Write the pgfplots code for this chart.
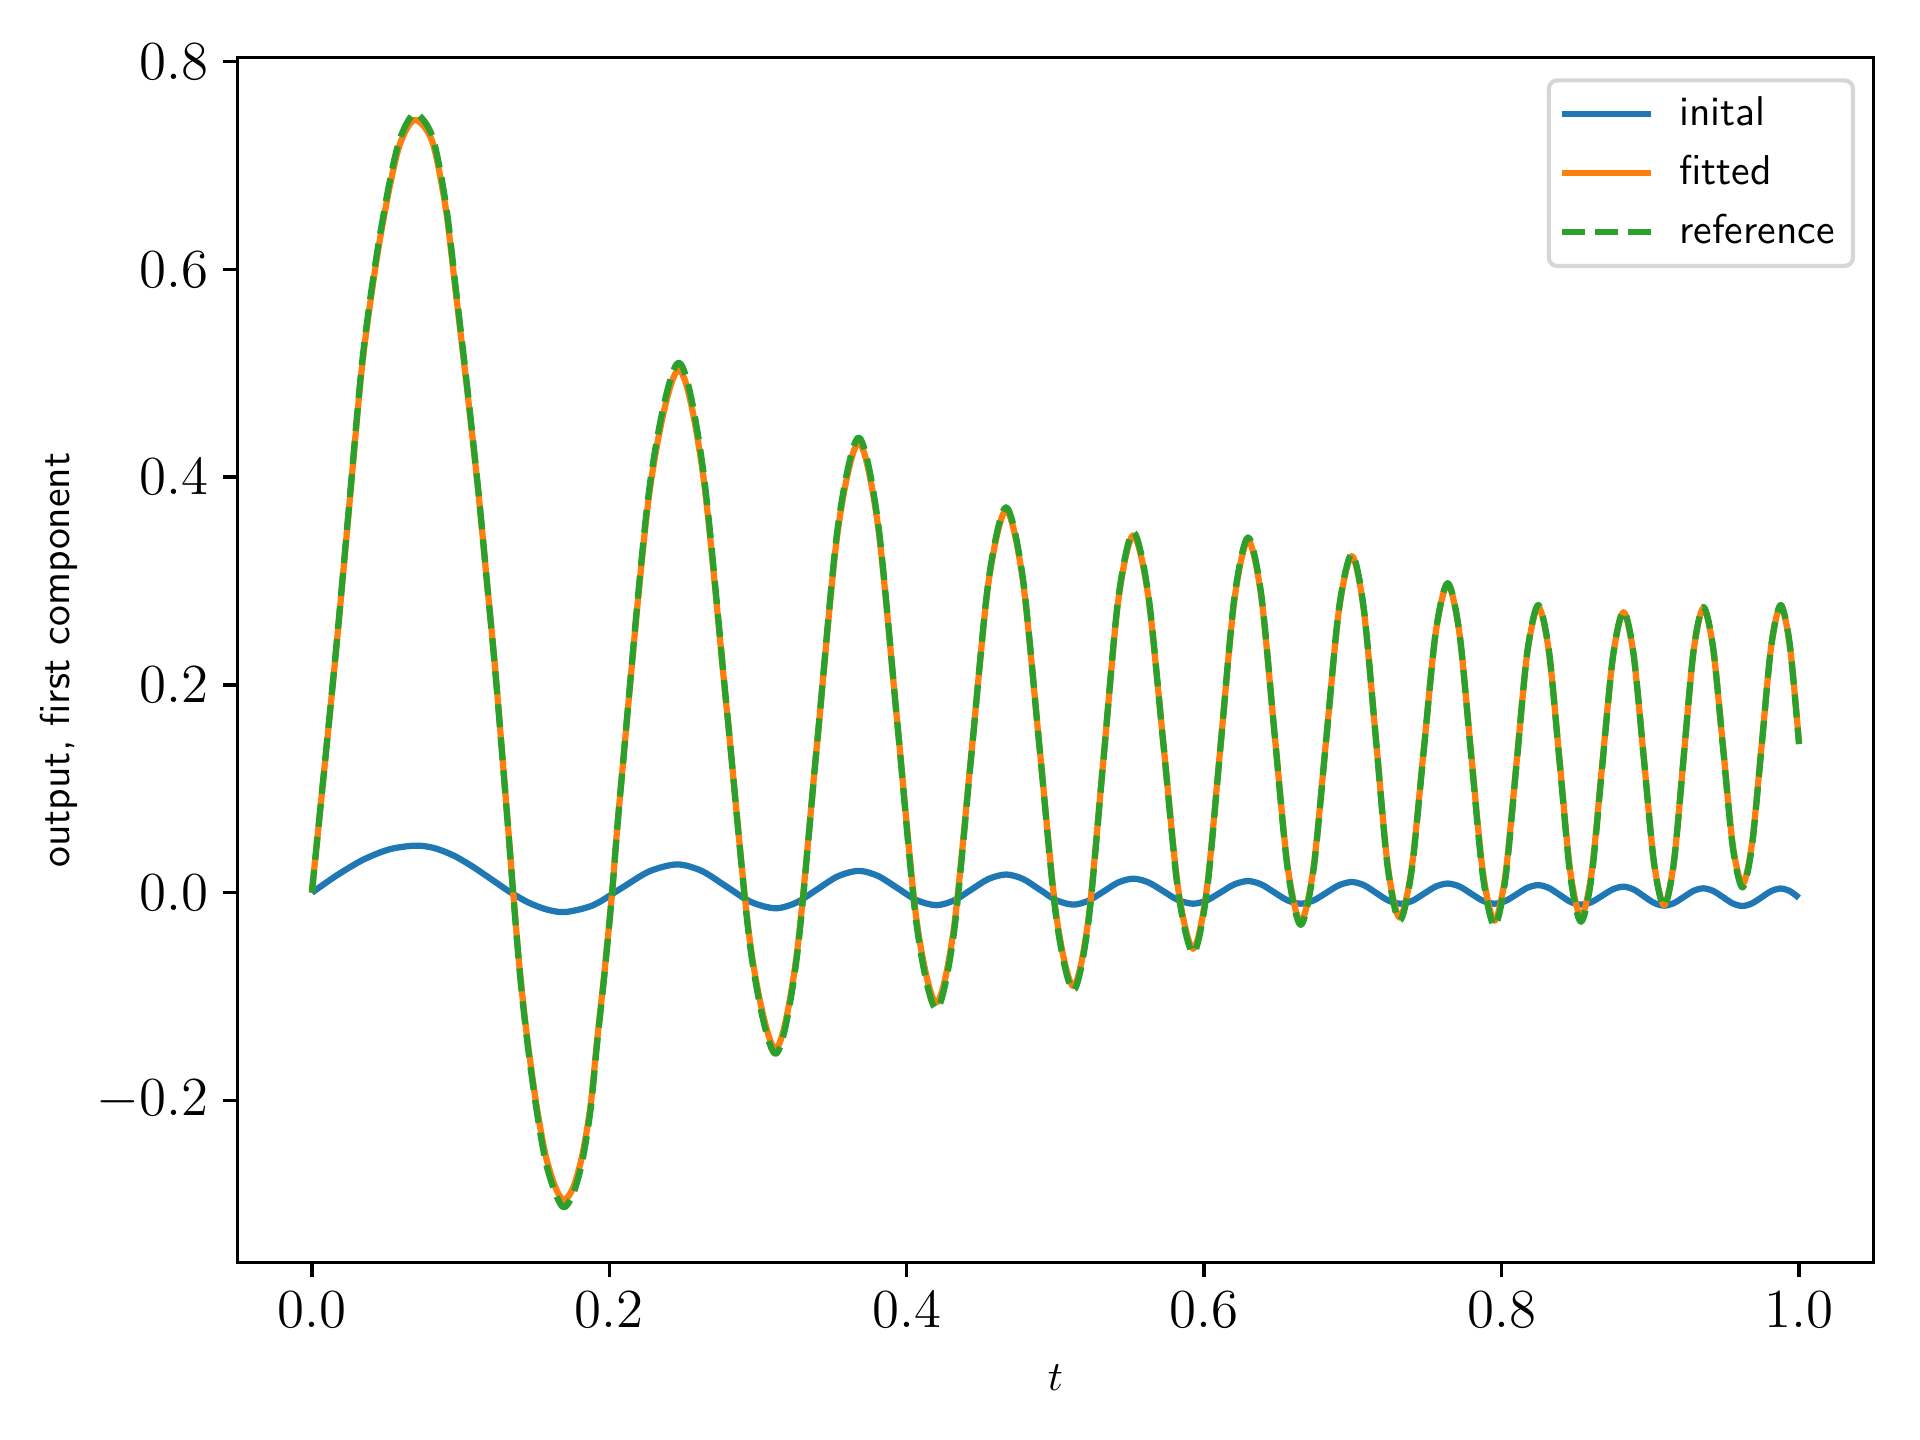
\RequirePackage{fix-cm}
\documentclass[border=0pt]{standalone}
\usepackage{pgfplots}
\pgfplotsset{compat=1.18}
\definecolor{tabblue}{HTML}{1F77B4}
\definecolor{taborange}{HTML}{FF7F0E}
\definecolor{tabgreen}{HTML}{2CA02C}
\begin{document}
\begin{tikzpicture}
\begin{axis}[
  scale only axis, width=392.6pt, height=289.2pt,
  xmin=-0.05, xmax=1.05, ymin=-0.356, ymax=0.804,
  xtick={0,0.2,0.4,0.6,0.8,1.0}, ytick={-0.2,0,0.2,0.4,0.6,0.8},
  xticklabel style={/pgf/number format/fixed,/pgf/number format/fixed zerofill,/pgf/number format/precision=1},
  yticklabel style={/pgf/number format/fixed,/pgf/number format/fixed zerofill,/pgf/number format/precision=1},
  tick label style={font=\fontsize{13.2}{15}\selectfont},
  scaled ticks=false,
  tick align=outside, tick pos=left, major tick length=3.5pt,
  every tick/.style={black, line width=0.8pt},
  axis line style={line width=0.8pt},
  xlabel={$t$}, ylabel={output, first component},
  every axis x label/.style={at={(axis description cs:0.5,0)}, yshift=-27.6pt, anchor=center, font=\fontsize{10}{12}\selectfont},
  every axis y label/.style={at={(axis description cs:0,0.5)}, xshift=-42.8pt, rotate=90, anchor=center, font=\sffamily\fontsize{10}{12}\selectfont},
  legend style={at={(axis description cs:1,1)}, anchor=north east, xshift=-4.4pt, yshift=-5.0pt,
    draw=black!16, line width=1pt, rounded corners=2pt, fill=white,
    font=\sffamily\fontsize{10}{12}\selectfont, inner xsep=2.4pt, inner ysep=1.9pt, row sep=1.6pt,
    /tikz/every odd column/.append style={column sep=4pt}},
  legend cell align=left,
  legend image code/.code={\draw[#1] (0pt,0pt) -- (21.4pt,0pt);},
]
\addplot[tabblue, line width=1.5pt, line join=round, smooth] coordinates {
(0,0) (0.01745,0.0173) (0.0349,0.032) (0.05235,0.0418) (0.0698,0.0453)
(0.0824,0.0429) (0.0950,0.0360) (0.1076,0.0256) (0.1202,0.0134) (0.1328,0.0011)
(0.1454,-0.0093) (0.1580,-0.0162) (0.1706,-0.0186)
(0.1894,-0.0119) (0.2081,0.0043) (0.2269,0.0205) (0.2456,0.0272)
(0.2621,0.0210) (0.2786,0.0061) (0.2951,-0.0088) (0.3116,-0.015)
(0.3256,-0.0097) (0.3396,0.003) (0.3536,0.0157) (0.3676,0.021)
(0.3806,0.0162) (0.3937,0.0045) (0.4067,-0.0072) (0.4197,-0.012)
(0.4315,-0.0077) (0.4433,0.0028) (0.4550,0.0132) (0.4668,0.0175)
(0.4781,0.0133) (0.4894,0.003) (0.5007,-0.0073) (0.5120,-0.0115)
(0.5221,-0.0078) (0.5322,0.001) (0.5422,0.0098) (0.5523,0.0135)
(0.5624,0.0100) (0.5725,0.0015) (0.5825,-0.0071) (0.5926,-0.0106)
(0.6018,-0.0074) (0.6111,0.0003) (0.6203,0.0080) (0.6295,0.0112)
(0.6384,0.0080) (0.6472,0.0003) (0.6561,-0.0074) (0.6649,-0.0106)
(0.6735,-0.0075) (0.6821,-0.0002) (0.6907,0.0072) (0.6993,0.0103)
(0.7075,0.0072) (0.7157,-0.0002) (0.7238,-0.0075) (0.7320,-0.0106)
(0.7400,-0.0078) (0.7479,-0.0009) (0.7559,0.0060) (0.7638,0.0088)
(0.7717,0.0060) (0.7795,-0.0009) (0.7874,-0.0078) (0.7952,-0.0106)
(0.8026,-0.0080) (0.8100,-0.0017) (0.8173,0.0047) (0.8247,0.0073)
(0.8319,0.0045) (0.8391,-0.0021) (0.8462,-0.0087) (0.8534,-0.0115)
(0.8606,-0.0090) (0.8677,-0.0029) (0.8749,0.0033) (0.8820,0.0058)
(0.8888,0.0031) (0.8957,-0.0034) (0.9025,-0.0098) (0.9093,-0.0125)
(0.9159,-0.0100) (0.9225,-0.0042) (0.9291,0.0018) (0.9357,0.0042)
(0.9423,0.0017) (0.9489,-0.0043) (0.9554,-0.0103) (0.9620,-0.0128)
(0.9684,-0.0103) (0.9749,-0.0044) (0.9813,0.0015) (0.9877,0.0040)
(0.9939,0.0015) (1.0,-0.0050)
};
\addlegendentry{inital}
\addplot[taborange, line width=1.5pt, line join=round, smooth] coordinates {
(0,0) (0.015,0.214) (0.024,0.354) (0.0329,0.495) (0.0385,0.560) (0.0452,0.624)
(0.0531,0.685) (0.0598,0.723) (0.0694,0.744) (0.0810,0.723) (0.0900,0.659)
(0.0967,0.579) (0.1046,0.482) (0.1120,0.385) (0.1180,0.295) (0.1236,0.210)
(0.1314,0.073) (0.1354,0.000) (0.1399,-0.076) (0.1449,-0.141) (0.1511,-0.205)
(0.1572,-0.253) (0.1639,-0.284) (0.1695,-0.296) (0.1757,-0.284) (0.1818,-0.253)
(0.1874,-0.205) (0.1919,-0.141) (0.1968,-0.076) (0.2019,0.000) (0.2079,0.1035)
(0.2271,0.386) (0.2463,0.503)
(0.2626,0.4074) (0.2790,0.1765) (0.2953,-0.0544) (0.3116,-0.150)
(0.3256,-0.0646) (0.3396,0.1415) (0.3536,0.3476) (0.3676,0.433)
(0.3806,0.3541) (0.3937,0.1635) (0.4067,-0.0271) (0.4197,-0.106)
(0.4315,-0.0366) (0.4433,0.131) (0.4550,0.2986) (0.4668,0.368)
(0.4781,0.3009) (0.4894,0.139) (0.5007,-0.0229) (0.5120,-0.090)
(0.5221,-0.0264) (0.5322,0.127) (0.5422,0.2804) (0.5523,0.344)
(0.5624,0.2857) (0.5725,0.145) (0.5825,0.0043) (0.5926,-0.054)
(0.6018,0.0036) (0.6111,0.1425) (0.6203,0.2814) (0.6295,0.339)
(0.6384,0.2853) (0.6472,0.1555) (0.6561,0.0257) (0.6649,-0.028)
(0.6735,0.0235) (0.6821,0.148) (0.6907,0.2725) (0.6993,0.324)
(0.7073,0.273) (0.7154,0.150) (0.7234,0.027) (0.7314,-0.024)
(0.7395,0.023) (0.7476,0.1365) (0.7557,0.250) (0.7638,0.297)
(0.7717,0.2496) (0.7795,0.135) (0.7874,0.0204) (0.7952,-0.027)
(0.8026,0.0172) (0.8100,0.124) (0.8173,0.2308) (0.8247,0.275)
(0.8319,0.2314) (0.8391,0.126) (0.8462,0.0206) (0.8534,-0.023)
(0.8606,0.0199) (0.8677,0.1235) (0.8749,0.2271) (0.8820,0.270)
(0.8888,0.2287) (0.8957,0.129) (0.9025,0.0293) (0.9093,-0.012)
(0.9159,0.0299) (0.9225,0.131) (0.9291,0.2321) (0.9357,0.274)
(0.9423,0.235) (0.9489,0.141) (0.9554,0.047) (0.9620,0.008)
(0.9684,0.0472) (0.9749,0.142) (0.9813,0.2368) (0.9877,0.276)
(0.9939,0.2373) (1.0,0.145)
};
\addlegendentry{fitted}
\addplot[tabgreen, line width=1.5pt, line join=round, dash pattern=on 5.55pt off 2.4pt, smooth] coordinates {
(0,0) (0.015,0.215) (0.024,0.356) (0.0329,0.498) (0.0385,0.564) (0.0452,0.628)
(0.0531,0.690) (0.0598,0.728) (0.0694,0.750) (0.0810,0.728) (0.0900,0.664)
(0.0967,0.583) (0.1046,0.485) (0.1120,0.386) (0.1180,0.295) (0.1236,0.209)
(0.1314,0.072) (0.1354,-0.001) (0.1399,-0.078) (0.1449,-0.144) (0.1511,-0.209)
(0.1572,-0.259) (0.1639,-0.290) (0.1695,-0.303) (0.1757,-0.290) (0.1818,-0.259)
(0.1874,-0.209) (0.1919,-0.144) (0.1968,-0.078) (0.2019,0.000) (0.2079,0.1035)
(0.2271,0.3909) (0.2463,0.510)
(0.2626,0.4126) (0.2790,0.1775) (0.2953,-0.0576) (0.3116,-0.155)
(0.3256,-0.0682) (0.3396,0.1415) (0.3536,0.3512) (0.3676,0.438)
(0.3806,0.3575) (0.3937,0.163) (0.4067,-0.0315) (0.4197,-0.112)
(0.4315,-0.0413) (0.4433,0.1295) (0.4550,0.3003) (0.4668,0.371)
(0.4781,0.3029) (0.4894,0.1385) (0.5007,-0.0259) (0.5120,-0.094)
(0.5221,-0.0294) (0.5322,0.1265) (0.5422,0.2824) (0.5523,0.347)
(0.5624,0.2877) (0.5725,0.1445) (0.5825,0.0013) (0.5926,-0.058)
(0.6018,0.0006) (0.6111,0.142) (0.6203,0.2834) (0.6295,0.342)
(0.6384,0.2874) (0.6472,0.1555) (0.6561,0.0236) (0.6649,-0.031)
(0.6735,0.0213) (0.6821,0.1475) (0.6907,0.2737) (0.6993,0.326)
(0.7073,0.2743) (0.7154,0.1495) (0.7234,0.0247) (0.7314,-0.027)
(0.7395,0.0206) (0.7476,0.1355) (0.7557,0.2504) (0.7638,0.298)
(0.7717,0.2497) (0.7795,0.133) (0.7874,0.0163) (0.7952,-0.032)
(0.8026,0.0133) (0.8100,0.1225) (0.8173,0.2317) (0.8247,0.277)
(0.8319,0.2323) (0.8391,0.1245) (0.8462,0.0167) (0.8534,-0.028)
(0.8606,0.0158) (0.8677,0.1215) (0.8749,0.2272) (0.8820,0.271)
(0.8888,0.2294) (0.8957,0.129) (0.9025,0.0286) (0.9093,-0.013)
(0.9159,0.0292) (0.9225,0.131) (0.9291,0.2328) (0.9357,0.275)
(0.9423,0.2355) (0.9489,0.140) (0.9554,0.0445) (0.9620,0.005)
(0.9684,0.0448) (0.9749,0.141) (0.9813,0.2372) (0.9877,0.277)
(0.9939,0.238) (1.0,0.143)
};
\addlegendentry{reference}
\end{axis}
\pgfresetboundingbox
\path[use as bounding box] ([shift={(-57pt,-42.6pt)}]current axis.south west) rectangle ([shift={(11.2pt,13.8pt)}]current axis.north east);
\end{tikzpicture}
\end{document}
